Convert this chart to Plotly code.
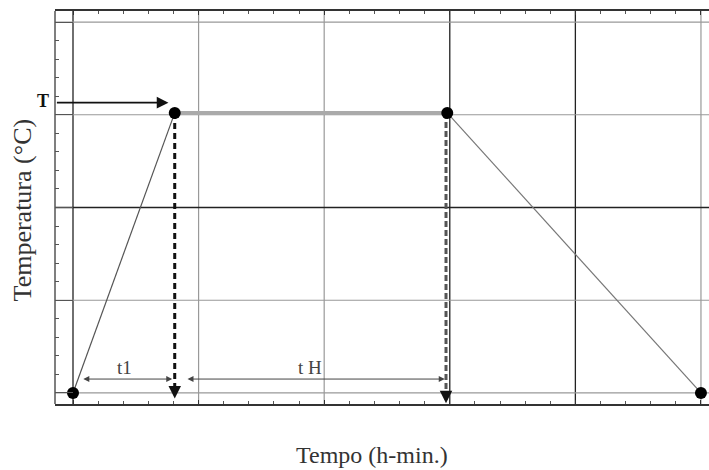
import plotly.graph_objects as go

# Data (schematic heat-treatment cycle)
times = [0, 0.81, 2.98, 5]
temps = [0, 3.02, 3.02, 0]
grid_x = [0, 1, 2, 3, 4, 5]
grid_y = [0, 1, 2, 3, 4]
dark_x = [0, 3, 4]
dark_y = [2]

SERIF = "Liberation Serif, Times New Roman, serif"

fig = go.Figure()

# ramp up
fig.add_trace(go.Scatter(x=times[0:2], y=temps[0:2], mode="lines",
                         line=dict(color="#555", width=1.2), hoverinfo="skip"))
# plateau (holding)
fig.add_trace(go.Scatter(x=times[1:3], y=temps[1:3], mode="lines",
                         line=dict(color="#aaa", width=4), hoverinfo="skip"))
# ramp down
fig.add_trace(go.Scatter(x=times[2:4], y=temps[2:4], mode="lines",
                         line=dict(color="#777", width=1.2), hoverinfo="skip"))
# dashed drops
fig.add_trace(go.Scatter(x=[times[1], times[1]], y=[temps[1], 0.05], mode="lines",
                         line=dict(color="#111", width=3, dash="6px,4px"), hoverinfo="skip"))
fig.add_trace(go.Scatter(x=[times[2] - 0.01, times[2] - 0.01], y=[temps[2], -0.02], mode="lines",
                         line=dict(color="#555", width=3, dash="6px,3px"), hoverinfo="skip"))
# dots
fig.add_trace(go.Scatter(x=times, y=temps, mode="markers",
                         marker=dict(color="black", size=12), hoverinfo="skip"))

shapes = []
for gx in grid_x:
    dark = gx in dark_x
    shapes.append(dict(type="line", xref="x", yref="paper", x0=gx, x1=gx, y0=0, y1=1,
                       line=dict(color="#222" if dark else "#999", width=1.3 if dark else 1.2),
                       layer="below"))
for gy in grid_y:
    dark = gy in dark_y
    shapes.append(dict(type="line", xref="paper", yref="y", x0=0, x1=1, y0=gy, y1=gy,
                       line=dict(color="#222" if dark else "#999", width=1.3 if dark else 1.2),
                       layer="below"))
# left border
shapes.append(dict(type="line", xref="paper", yref="paper", x0=0, x1=0, y0=0, y1=1,
                   line=dict(color="#555", width=1.5)))

annotations = []
arrow_common = dict(xref="x", yref="y", axref="x", ayref="y", text="", showarrow=True)
# T arrow
annotations.append(dict(x=0.76, y=3.13, ax=-0.14, ay=3.13, arrowhead=2, arrowsize=1.3,
                        arrowwidth=1.8, arrowcolor="#111", **arrow_common))
annotations.append(dict(x=-0.018, y=0.772, xref="paper", yref="paper", text="<b>T</b>",
                        showarrow=False, xanchor="center", yanchor="middle",
                        font=dict(family=SERIF, size=18, color="#111")))
# dashed drop arrowheads
annotations.append(dict(x=times[1], y=-0.06, ax=times[1], ay=0.06, arrowhead=2, arrowsize=1,
                        arrowwidth=2.5, arrowcolor="#111", **arrow_common))
annotations.append(dict(x=times[2] - 0.01, y=-0.11, ax=times[2] - 0.01, ay=0.0, arrowhead=2,
                        arrowsize=1, arrowwidth=2.5, arrowcolor="#111", **arrow_common))
# dimension arrows
annotations.append(dict(x=0.79, y=0.15, ax=0.07, ay=0.15, arrowhead=2, startarrowhead=2,
                        arrowside="end+start", arrowsize=1.2, arrowwidth=1, arrowcolor="#444",
                        **arrow_common))
annotations.append(dict(x=2.96, y=0.15, ax=0.90, ay=0.15, arrowhead=2, startarrowhead=2,
                        arrowside="end+start", arrowsize=1.2, arrowwidth=1, arrowcolor="#444",
                        **arrow_common))
annotations.append(dict(x=0.41, y=0.27, xref="x", yref="y", text="t1", showarrow=False,
                        font=dict(family=SERIF, size=19, color="#444")))
annotations.append(dict(x=1.89, y=0.27, xref="x", yref="y", text="t H", showarrow=False,
                        font=dict(family=SERIF, size=19, color="#444")))
# axis titles
annotations.append(dict(x=-0.049, y=0.495, xref="paper", yref="paper", text="Temperatura (°C)",
                        textangle=-90, showarrow=False, xanchor="center", yanchor="middle",
                        font=dict(family=SERIF, size=26, color="#333")))
annotations.append(dict(x=0.485, y=-0.131, xref="paper", yref="paper", text="Tempo (h-min.)",
                        showarrow=False, xanchor="center", yanchor="middle",
                        font=dict(family=SERIF, size=24, color="#333")))

fig.update_layout(
    width=709, height=470,
    margin=dict(l=55, r=0, t=11, b=66),
    paper_bgcolor="white", plot_bgcolor="white",
    showlegend=False,
    shapes=shapes, annotations=annotations,
    xaxis=dict(range=[-0.1433, 5.064], tick0=0, dtick=1, showticklabels=False,
               showgrid=False, zeroline=False,
               showline=True, linecolor="#333", linewidth=1.8, mirror="ticks",
               ticks="inside", ticklen=4, tickcolor="#333",
               minor=dict(dtick=0.2, tick0=0, ticks="inside", ticklen=3, tickcolor="#555",
                          showgrid=False)),
    yaxis=dict(range=[-0.119, 4.119], tick0=0, dtick=1, showticklabels=False,
               showgrid=False, zeroline=False,
               showline=False, ticks="inside", ticklen=18, tickcolor="#555",
               minor=dict(dtick=0.2, tick0=0, ticks="inside", ticklen=4, tickcolor="#555",
                          showgrid=False)),
)

fig.write_html("out.html")
